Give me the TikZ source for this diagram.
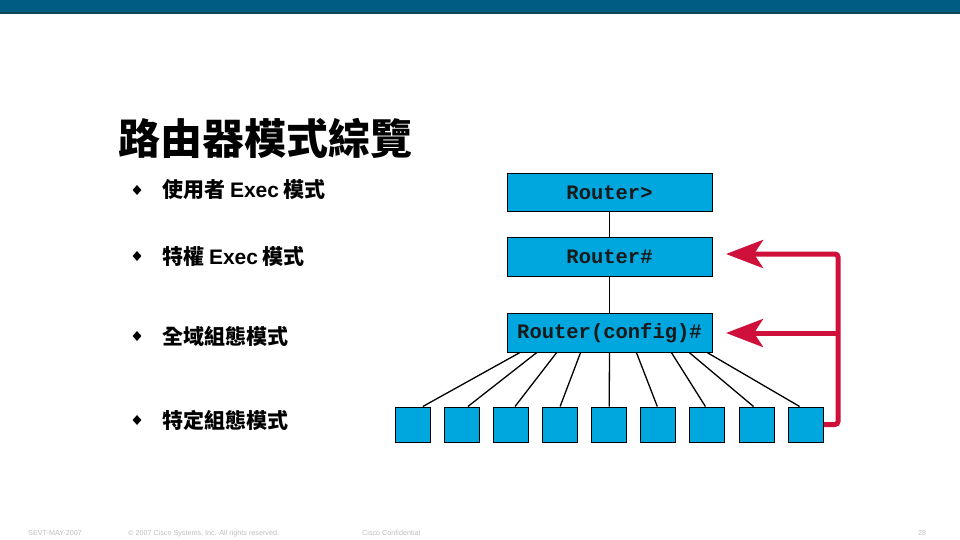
\documentclass[tikz,border=0pt]{standalone}
\usepackage{fontspec}
\usetikzlibrary{shapes.geometric,arrows.meta,calc}
\newfontfamily\cjk{Noto Sans CJK TC}
\newfontfamily\lat{Liberation Sans}
\newfontfamily\mono{Liberation Mono}
\definecolor{barblue}{RGB}{0,92,130}
\definecolor{bardark}{RGB}{20,70,90}
\definecolor{boxblue}{RGB}{0,166,222}
\definecolor{arrred}{RGB}{206,16,58}
\definecolor{footgray}{RGB}{190,190,190}
\tikzset{
  modebox/.style={draw=black, line width=1pt, fill=boxblue, minimum width=205pt, minimum height=38.5pt, inner sep=0pt, font=\mono\bfseries\fontsize{20.5}{22}\selectfont, text=black!90},
  sqbox/.style={draw=black, line width=1pt, fill=boxblue, minimum width=35pt, minimum height=35pt, inner sep=0pt},
  bulletmark/.style={diamond, fill=black, inner sep=0pt, minimum width=9pt, minimum height=10pt},
  bullettext/.style={anchor=west, inner sep=0pt, font=\cjk\bfseries\fontsize{21}{23}\selectfont},
  link/.style={line width=1.3pt, draw=black},
  redline/.style={draw=arrred, line width=5pt, rounded corners=3pt},
  redtip/.style={-{Stealth[length=37pt,width=28pt,inset=9pt]}},
  foot/.style={inner sep=0pt, anchor=base west, font=\lat\fontsize{7.2}{8}\selectfont, text=footgray}
}
\begin{document}
\begin{tikzpicture}[x=1pt,y=-1pt]
\useasboundingbox (0,0) rectangle (960,540);
% top bar
\fill[barblue] (0,0) rectangle (960,13);
\fill[bardark] (0,12.5) rectangle (960,14.5);
% title
\node[anchor=west, inner sep=0pt, font=\cjk\bfseries\fontsize{42}{45}\selectfont] (title) at (118,138) {路由器模式綜覽};
% bullets
\node[bulletmark] (b1) at (137,190) {};
\node[bullettext] (t1) at (162,190) {使用者 {\lat Exec} 模式};
\node[bulletmark] (b2) at (137,256) {};
\node[bullettext] (t2) at (162,256) {特權 {\lat Exec} 模式};
\node[bulletmark] (b3) at (137,336) {};
\node[bullettext] (t3) at (162,336) {全域組態模式};
\node[bulletmark] (b4) at (137,420) {};
\node[bullettext] (t4) at (162,420) {特定組態模式};
% mode boxes
\node[modebox] (user) at (609.5,192.5) {Router>};
\node[modebox] (priv) at (609.5,257) {Router\#};
\node[modebox] (cfg) at (609.5,333) {Router(config)\#};
\draw[link] (user) -- (priv);
\draw[link] (priv) -- (cfg);
% small squares
\foreach \i in {1,...,9}
  \node[sqbox] (s\i) at ({412.8+49.1*(\i-1)},424.5) {};
% fan-out connectors
\draw[link] ($(cfg.south west)+(13,0)$) -- ($(s1.north)+(10,0)$);
\draw[link] ($(cfg.south west)+(30,0)$) -- ($(s2.north)+(6,0)$);
\draw[link] ($(cfg.south west)+(50,0)$) -- ($(s3.north)+(4,0)$);
\draw[link] ($(cfg.south west)+(74,0)$) -- ($(s4.north)+(0,0)$);
\draw[link] (cfg.south) -- (s5.north);
\draw[link] ($(cfg.south west)+(130,0)$) -- ($(s6.north)+(-1,0)$);
\draw[link] ($(cfg.south west)+(165,0)$) -- ($(s7.north)+(-2,0)$);
\draw[link] ($(cfg.south west)+(183,0)$) -- ($(s8.north)+(-3,0)$);
\draw[link] ($(cfg.south west)+(201,0)$) -- ($(s9.north)+(-6,0)$);
% red return arrows
\coordinate (rbot) at (838,424.5);
\coordinate (rtop) at (838,254);
\coordinate (rmid) at (838,333);
\coordinate (tip1) at (726,254);
\coordinate (tip2) at (726,333);
\draw[redline, redtip] (s9.east) -- (rbot) -- (rtop) -- (tip1);
\draw[redline, redtip] (rmid) -- (tip2);
% footer
\node[foot] (f1) at (28,535) {SEVT-MAY-2007};
\node[foot] (f2) at (128,535) {© 2007 Cisco Systems, Inc. All rights reserved.};
\node[foot] (f3) at (362,535) {Cisco Confidential};
\node[foot] (f4) at (918,535) {28};
\end{tikzpicture}
\end{document}
